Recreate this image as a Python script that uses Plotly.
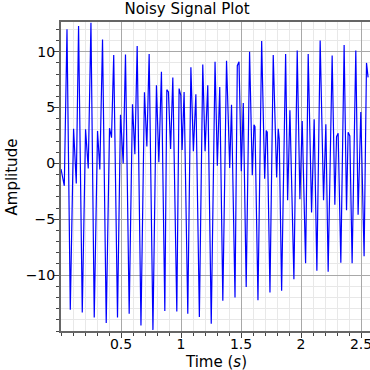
import plotly.graph_objects as go

# Time (s) and amplitude values (line vertices)
time_s = [
    0.000, 0.0275, 0.0499, 0.0774, 0.1048, 0.1273, 0.1464, 0.1772, 0.2047, 0.2271,
    0.2496, 0.2770, 0.3045, 0.3236, 0.3461, 0.3769, 0.4043, 0.4210, 0.4393, 0.4709,
    0.4958, 0.5183, 0.5374, 0.5682, 0.5957, 0.6156, 0.6348, 0.6664, 0.6955, 0.7155,
    0.7346, 0.7662, 0.7953, 0.8153, 0.8369, 0.8652, 0.8819, 0.8952, 0.9135, 0.9318,
    0.9651, 0.9842, 0.9983, 1.0092, 1.0258, 1.0566, 1.0824, 1.1032, 1.1240, 1.1531,
    1.1814, 1.2005, 1.2230, 1.2521, 1.2837, 1.3028, 1.3228, 1.3486, 1.3794, 1.4060,
    1.4210, 1.4501, 1.4692, 1.4834, 1.5025, 1.5191, 1.5433, 1.5715, 1.5940, 1.6082,
    1.6165, 1.6414, 1.6722, 1.6972, 1.7105, 1.7188, 1.7413, 1.7687, 1.7970, 1.8103,
    1.8186, 1.8386, 1.8719, 1.8885, 1.9077, 1.9409, 1.9684, 1.9908, 2.0100, 2.0383,
    2.0599, 2.0882, 2.1098, 2.1323, 2.1597, 2.1880, 2.2072, 2.2263, 2.2596, 2.2820,
    2.2962, 2.3095, 2.3319, 2.3594, 2.3794, 2.3927, 2.4068, 2.4260, 2.4567, 2.4759,
    2.4983, 2.5258, 2.5458, 2.5591,
]
amplitude = [
    -0.5, -2.0, 12.0, -13.1, 3.1, -1.8, 12.3, -13.35, 3.05, -0.45,
    12.6, -13.8, 2.9, -0.55, 11.1, -14.28, 3.15, 2.3, 9.7, -13.8,
    4.35, 0.0, 9.76, -13.45, 5.3, 0.83, 10.5, -14.5, 6.37, 1.52,
    9.8, -14.9, 7.0, 0.1, 8.2, -13.2, 6.6, 6.4, 1.3, 7.7,
    -13.25, 6.7, 6.1, 1.2, 6.4, -13.45, 8.6, 1.1, 6.2, -13.75,
    8.85, 1.1, 7.0, -14.35, 9.1, -0.2, 6.85, -12.3, 9.2, -0.4,
    5.25, -12.0, 8.75, 9.1, -0.7, 5.4, -11.05, 10.0, -1.05, 3.45,
    3.3, -12.25, 10.95, -1.37, 2.95, 2.8, -11.55, 9.7, -1.25, 3.1,
    2.2, -11.4, 9.8, -3.3, 4.76, -10.36, 10.1, -3.2, 3.8, -8.93,
    9.8, -4.4, 3.96, -9.6, 11.0, -3.3, 3.5, -9.7, 9.67, -3.7,
    2.4, 2.7, -8.9, 10.6, -4.2, 2.8, 2.46, -8.93, 10.1, -4.6,
    4.6, -8.3, 9.0, 7.7,
]

x_tick_vals = [0.5, 1, 1.5, 2, 2.5]
x_tick_text = ["0.5", "1", "1.5", "2", "2.5"]
y_tick_vals = [-10, -5, 0, 5, 10]

FONT = "DejaVu Sans"

fig = go.Figure()
fig.add_trace(go.Scatter(
    x=time_s, y=amplitude, mode="lines",
    line=dict(color="#0000ff", width=1.2),
    showlegend=False,
))

fig.update_layout(
    width=370, height=370,
    margin=dict(l=61, r=0, t=22, b=39, autoexpand=False),
    paper_bgcolor="white", plot_bgcolor="white",
    font=dict(family=FONT, size=14, color="black"),
    title=dict(text="Noisy Signal Plot", x=187 / 370, xref="container", xanchor="center",
               y=1 - 9 / 370, yref="container", yanchor="middle",
               font=dict(family=FONT, size=15, color="black")),
    annotations=[
        dict(text="Time (<i>s</i>)", xref="paper", yref="paper",
             x=0.5, y=-0.1003, xanchor="center", yanchor="middle",
             showarrow=False, font=dict(family=FONT, size=15, color="black")),
        dict(text="Amplitude", xref="paper", yref="paper",
             x=-0.1586, y=0.5, xanchor="center", yanchor="middle", textangle=-90,
             showarrow=False, font=dict(family=FONT, size=15, color="black")),
    ],
)

fig.update_xaxes(
    range=[0, 2.575], automargin=False, ticklabeloverflow="allow",
    ticklabelstandoff=-6,
    tickmode="array", tickvals=x_tick_vals, ticktext=x_tick_text,
    ticks="outside", ticklen=5, tickcolor="#444", tickwidth=1,
    showgrid=True, gridcolor="#a8a8a8", gridwidth=1,
    minor=dict(dtick=0.1, tick0=0, showgrid=True, gridcolor="#e8e8e8", gridwidth=1,
               ticks="outside", ticklen=3, tickcolor="#444"),
    showline=True, linecolor="#666", linewidth=2, mirror=True,
    zeroline=False,
    tickfont=dict(family=FONT, size=14),
)
fig.update_yaxes(
    range=[-15, 12.66], automargin=False,
    ticklabelstandoff=-4,
    tickmode="array", tickvals=y_tick_vals,
    ticks="outside", ticklen=5, tickcolor="#444", tickwidth=1,
    showgrid=True, gridcolor="#a8a8a8", gridwidth=1,
    minor=dict(dtick=1, tick0=0, showgrid=True, gridcolor="#e8e8e8", gridwidth=1,
               ticks="outside", ticklen=3, tickcolor="#444"),
    showline=True, linecolor="#666", linewidth=2, mirror=False,
    zeroline=False,
    tickfont=dict(family=FONT, size=14),
)

fig.write_html("out.html", config={"displayModeBar": False},
               post_script="document.body.style.margin='0';")
